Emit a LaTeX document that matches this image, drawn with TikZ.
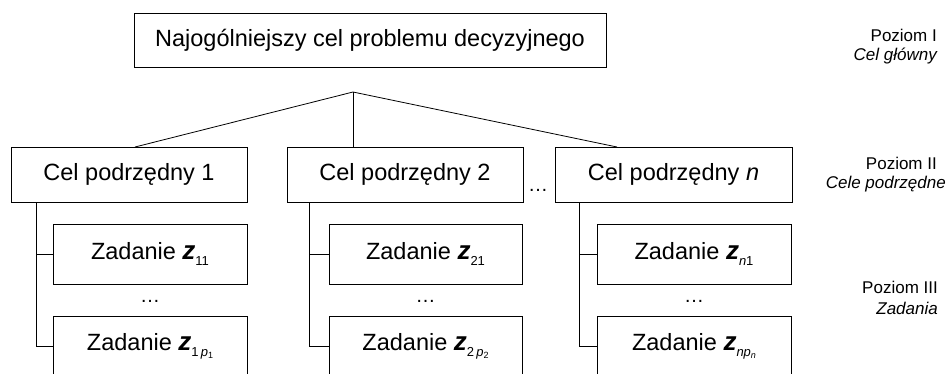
\documentclass[tikz,border=0pt]{standalone}
\usepackage{fontspec}
\setmainfont{Liberation Sans}
\newcommand{\zsym}{{\fontsize{26}{27}\selectfont\bfseries\itshape z}}
\newcommand{\sbs}[1]{\raisebox{-0.5ex}{\fontsize{13}{13}\selectfont #1}}
\newcommand{\ssbs}[1]{\raisebox{-0.35ex}{\fontsize{9}{9}\selectfont #1}}
\begin{document}
\begin{tikzpicture}[x=1pt,y=-1pt,
  box/.style={draw, line width=0.8pt, inner sep=0pt, font=\fontsize{23.5}{27}\selectfont},
  goal/.style={box, minimum width=236pt, minimum height=55pt},
  task/.style={box, minimum width=194pt, minimum height=60pt},
  lbl/.style={font=\fontsize{17}{20}\selectfont, anchor=east, inner sep=0pt},
  dots/.style={font=\fontsize{20}{22}\selectfont, inner sep=0pt},
  conn/.style={line width=0.8pt}]
\useasboundingbox (0,0) rectangle (949,373);
\clip (0,0) rectangle (949,373);

\node[box, minimum width=472pt, minimum height=54pt] (top) at (370,40) {Najogólniejszy cel problemu decyzyjnego};

\node[goal] (c1) at (129,174.5) {Cel podrzędny 1};
\node[goal] (c2) at (405,174.5) {Cel podrzędny 2};
\node[goal, minimum width=237pt] (cn) at (673.5,174.5) {Cel podrzędny \textit{n}};
\node[dots] (d0) at (538,190) {…};

\node[task] (t11) at (150,254) {Zadanie \zsym\sbs{11}};
\node[task] (t1p) at (150,346) {Zadanie \zsym\sbs{1\,\textit{p}\ssbs{1}}};
\node[dots] (d1) at (150,301) {…};

\node[task, minimum width=193pt] (t21) at (425.5,254) {Zadanie \zsym\sbs{21}};
\node[task, minimum width=193pt] (t2p) at (425.5,346) {Zadanie \zsym\sbs{2\,\textit{p}\ssbs{2}}};
\node[dots] (d2) at (425.5,301) {…};

\node[task] (tn1) at (694,254) {Zadanie \zsym\sbs{\textit{n}1}};
\node[task] (tnp) at (694,346) {Zadanie \zsym\sbs{\textit{np}\ssbs{\textit{n}}}};
\node[dots] (dn) at (694,301) {…};

\coordinate (j) at (353,92);
\coordinate (e1) at (135,147);
\coordinate (en) at (617,147);
\draw[conn] (e1) -- (j) -- (en);
\draw[conn] (j) -- (c2.north -| j);

\coordinate (v1) at ([xshift=26pt]c1.south west);
\coordinate (v2) at ([xshift=23pt]c2.south west);
\coordinate (vn) at ([xshift=25pt]cn.south west);
\draw[conn] (v1) |- (t11.west);
\draw[conn] (v1) |- (t1p.west);
\draw[conn] (v2) |- (t21.west);
\draw[conn] (v2) |- (t2p.west);
\draw[conn] (vn) |- (tn1.west);
\draw[conn] (vn) |- (tnp.west);

\node[lbl] (l1a) at (937,35) {Poziom I};
\node[lbl] (l1b) at (937,56) {\itshape Cel główny};
\node[lbl] (l2a) at (937,163) {Poziom II};
\node[lbl] (l2b) at (946,184) {\itshape Cele podrzędne};
\node[lbl] (l3a) at (938,287) {Poziom III};
\node[lbl] (l3b) at (938,308) {\itshape Zadania};
\end{tikzpicture}
\end{document}
